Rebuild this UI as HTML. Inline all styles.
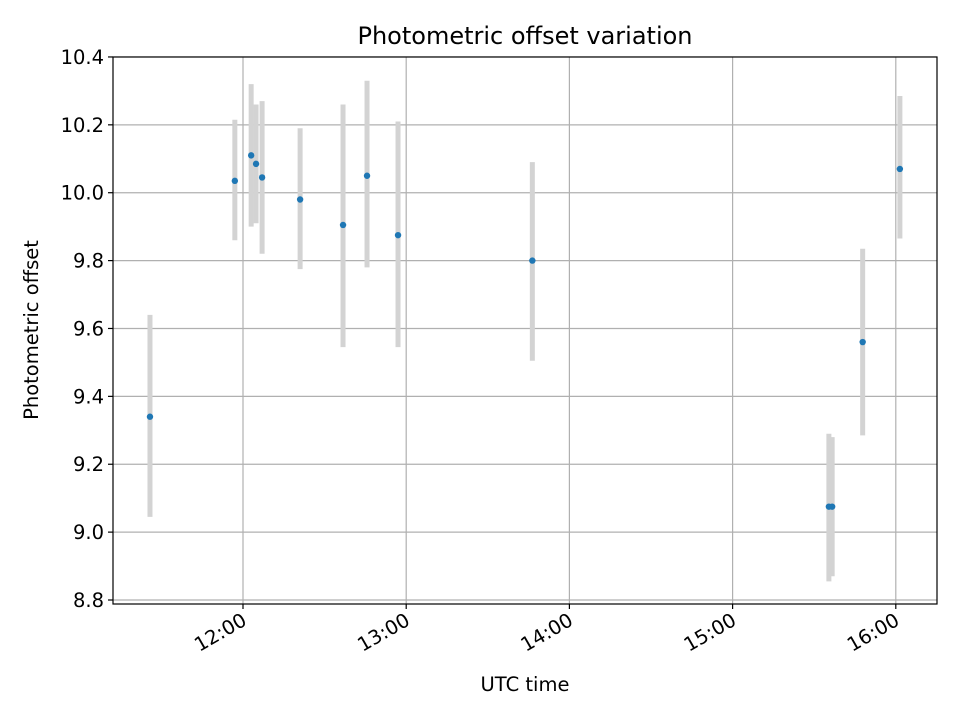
<!DOCTYPE html>
<html><head><meta charset="utf-8"><style>
body{margin:0;background:#fff}
svg text{font-family:"DejaVu Sans","Liberation Sans",sans-serif;fill:#000}
</style></head><body>
<svg id="chart" width="960" height="720" xmlns="http://www.w3.org/2000/svg">
<rect width="960" height="720" fill="#fff"/>
<g id="grid"></g><g id="bars"></g><g id="pts"></g><g id="axes"></g>
<text x="525" y="44" style="font-size:24px" text-anchor="middle">Photometric offset variation</text>
<text x="525" y="691" style="font-size:19.5px" text-anchor="middle">UTC time</text>
<text transform="translate(38,330) rotate(-90)" style="font-size:19.5px" text-anchor="middle">Photometric offset</text>
</svg>
<script>
// times in hours (UTC), values, error-bar bounds
const times=[11.43,11.95,12.05,12.08,12.117,12.35,12.613,12.76,12.95,13.773,15.59,15.61,15.797,16.025];
const values=[9.34,10.035,10.11,10.085,10.045,9.98,9.905,10.05,9.875,9.80,9.075,9.075,9.56,10.07];
const lows=[9.045,9.86,9.90,9.91,9.82,9.775,9.545,9.78,9.545,9.505,8.855,8.87,9.285,9.865];
const highs=[9.64,10.215,10.32,10.26,10.27,10.19,10.26,10.33,10.21,10.09,9.29,9.28,9.835,10.285];
const yTicks=[8.8,9.0,9.2,9.4,9.6,9.8,10.0,10.2,10.4];
const xTicks=[12,13,14,15,16];
const xTickLabels=["12:00","13:00","14:00","15:00","16:00"];
const L=113,R=937,T=57,B=604;
const X=h=>243+(h-12)*163.2;
const Y=v=>600-(v-8.8)*339.4;
const NS="http://www.w3.org/2000/svg";
function mk(t,a,p){const e=document.createElementNS(NS,t);for(const k in a)e.setAttribute(k,a[k]);p.appendChild(e);return e;}
const grid=document.getElementById('grid'),axes=document.getElementById('axes');
yTicks.forEach(v=>{const y=Y(v);
 const g=mk('line',{x1:L,x2:R,y1:y,y2:y,stroke:'#b0b0b0','stroke-width':1.2},grid);
 
 
 mk('line',{x1:L-5,x2:L,y1:y,y2:y,stroke:'#000','stroke-width':1.2},axes);
 const t=mk('text',{x:L-9,y:y+7,'text-anchor':'end',style:'font-size:19.5px'},axes);t.textContent=v.toFixed(1);
 
 
});
xTicks.forEach((h,i)=>{const x=X(h);
 const g=mk('line',{x1:x,x2:x,y1:T,y2:B,stroke:'#b0b0b0','stroke-width':1.2},grid);
 
 
 mk('line',{x1:x,x2:x,y1:B,y2:B+5,stroke:'#000','stroke-width':1.2},axes);
 const ax=x+5,ay=B+20;
 const t=mk('text',{x:ax,y:ay,'text-anchor':'end',style:'font-size:19.5px',transform:`rotate(-30 ${ax} ${ay})`},axes);t.textContent=xTickLabels[i];
 
 
});
const fr=mk('rect',{x:L,y:T,width:R-L,height:B-T,fill:'none',stroke:'#000','stroke-width':1.2},axes);


const bars=document.getElementById('bars'),pts=document.getElementById('pts');
times.forEach((h,i)=>{
 const b=mk('line',{x1:X(h),x2:X(h),y1:Y(lows[i]),y2:Y(highs[i]),stroke:'#d3d3d3','stroke-width':5},bars);
 
 
 const c=mk('circle',{cx:X(h),cy:Y(values[i]),r:3.2,fill:'#1f77b4'},pts);
 
 
});
</script>
</body></html>
